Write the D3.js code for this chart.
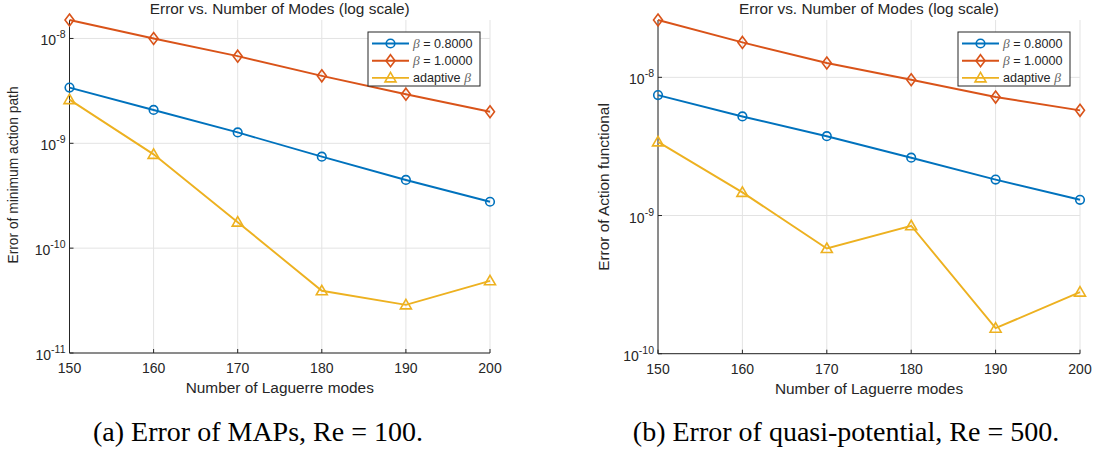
<!DOCTYPE html>
<html>
<head>
<meta charset="utf-8">
<script src="https://cdn.jsdelivr.net/npm/d3@7"></script>
<style>
  body { margin: 0; background: #fff; }
  text { font-family: "Liberation Sans", Arial, sans-serif; fill: #262626; }
</style>
</head>
<body>
<div class="canvas"></div>
<script>
// data
const modes = [150, 160, 170, 180, 190, 200];
const seriesNames = ['0.8000', '1.0000', 'adaptive'];

const mapBeta08 = [3.4e-9, 2.08e-9, 1.27e-9, 7.46e-10, 4.47e-10, 2.77e-10];
const mapBeta10 = [1.5e-8, 1.0e-8, 6.78e-9, 4.4e-9, 2.94e-9, 2.0e-9];
const mapAdaptive = [2.61e-9, 7.85e-10, 1.77e-10, 3.92e-11, 2.88e-11, 4.88e-11];

const qpBeta08 = [7.44e-9, 5.21e-9, 3.75e-9, 2.62e-9, 1.82e-9, 1.30e-9];
const qpBeta10 = [2.6e-8, 1.79e-8, 1.27e-8, 9.6e-9, 7.2e-9, 5.77e-9];
const qpAdaptive = [3.41e-9, 1.47e-9, 5.77e-10, 8.43e-10, 1.53e-10, 2.79e-10];

const mapTicks = [-11, -10, -9, -8];
const qpTicks = [-10, -9, -8];

const colors = ['#0072BD', '#D95319', '#EDB120'];
const markers = ['circle', 'diamond', 'triangle'];

const svg = d3.select('.canvas')
  .append('svg')
    .attr('width', 1094)
    .attr('height', 455);

const drawMarkers = (g, pts, type, color) => {
  pts.forEach(([px, py]) => {
    if (type === 'circle') {
      g.append('circle').attr('cx', px).attr('cy', py).attr('r', 4.3)
        .attr('fill', 'none').attr('stroke', color).attr('stroke-width', 1.6);
    } else if (type === 'diamond') {
      g.append('path')
        .attr('d', `M${px},${py - 6}L${px + 4.5},${py}L${px},${py + 6}L${px - 4.5},${py}Z`)
        .attr('fill', 'none').attr('stroke', color).attr('stroke-width', 1.6);
    } else {
      g.append('path')
        .attr('d', `M${px},${py - 5.5}L${px + 5.5},${py + 4}L${px - 5.5},${py + 4}Z`)
        .attr('fill', 'none').attr('stroke', color).attr('stroke-width', 1.6);
    }
  });
};

// draw one panel
const drawPanel = opts => {
  const { left, right, top, bottom, yDomain, ticks, series, yLabel, yLabelX, yLabelY, yLabelSize, caption } = opts;

  const x = d3.scaleLinear().domain([150, 200]).range([left, right]);
  const y = d3.scaleLog().domain(yDomain).range([bottom, top]);

  const g = svg.append('g');

  // grid
  g.selectAll('.gx').data(modes).enter().append('line')
    .attr('x1', d => x(d)).attr('x2', d => x(d))
    .attr('y1', top).attr('y2', bottom)
    .attr('stroke', '#e3e3e3').attr('stroke-width', 1);
  g.selectAll('.gy').data(ticks).enter().append('line')
    .attr('x1', left).attr('x2', right)
    .attr('y1', d => y(Math.pow(10, d))).attr('y2', d => y(Math.pow(10, d)))
    .attr('stroke', '#e3e3e3').attr('stroke-width', 1);

  // axes lines
  g.append('line').attr('x1', left).attr('x2', right).attr('y1', bottom).attr('y2', bottom)
    .attr('stroke', '#262626').attr('stroke-width', 1);
  g.append('line').attr('x1', left).attr('x2', left).attr('y1', top).attr('y2', bottom)
    .attr('stroke', '#262626').attr('stroke-width', 1);

  // tick marks (inward)
  g.selectAll('.tx').data(modes).enter().append('line')
    .attr('x1', d => x(d)).attr('x2', d => x(d))
    .attr('y1', bottom).attr('y2', bottom - 4)
    .attr('stroke', '#262626');
  g.selectAll('.ty').data(ticks).enter().append('line')
    .attr('x1', left).attr('x2', left + 4)
    .attr('y1', d => y(Math.pow(10, d))).attr('y2', d => y(Math.pow(10, d)))
    .attr('stroke', '#262626');

  // x tick labels
  g.selectAll('.lx').data(modes).enter().append('text')
    .attr('x', d => x(d)).attr('y', bottom + 20)
    .attr('text-anchor', 'middle')
    .attr('font-size', 14)
    .text(d => d);

  // y tick labels with superscript exponents
  const yl = g.selectAll('.ly').data(ticks).enter().append('text')
    .attr('x', left - 4).attr('y', d => y(Math.pow(10, d)) + 7)
    .attr('text-anchor', 'end')
    .attr('font-size', 14);
  yl.append('tspan').text('10');
  yl.append('tspan').attr('dy', -7).attr('font-size', 10.5).text(d => d);

  // axis labels
  g.append('text')
    .attr('x', (left + right) / 2).attr('y', bottom + 40)
    .attr('text-anchor', 'middle').attr('font-size', 15.4)
    .text('Number of Laguerre modes');
  g.append('text')
    .attr('transform', `translate(${yLabelX},${yLabelY}) rotate(-90)`)
    .attr('text-anchor', 'middle').attr('font-size', yLabelSize)
    .text(yLabel);

  // title
  g.append('text')
    .attr('x', (left + right) / 2).attr('y', 14)
    .attr('text-anchor', 'middle').attr('font-size', 15.4)
    .text('Error vs. Number of Modes (log scale)');

  // lines and markers
  const line = d3.line().x((d, i) => x(modes[i])).y(d => y(d));
  series.forEach((s, k) => {
    g.append('path')
      .attr('d', line(s))
      .attr('fill', 'none')
      .attr('stroke', colors[k])
      .attr('stroke-width', 1.9);
    drawMarkers(g, s.map((d, i) => [x(modes[i]), y(d)]), markers[k], colors[k]);
  });

  // legend
  const lw = 112, lh = 54;
  const lx = right - 10 - lw, ly = 32;
  const lg = g.append('g').attr('transform', `translate(${lx},${ly})`);
  lg.append('rect').attr('width', lw).attr('height', lh)
    .attr('fill', '#fff').attr('stroke', '#262626').attr('stroke-width', 1);
  seriesNames.forEach((name, k) => {
    const ry = 11.5 + k * 17.2;
    lg.append('line').attr('x1', 4).attr('x2', 41).attr('y1', ry).attr('y2', ry)
      .attr('stroke', colors[k]).attr('stroke-width', 1.9);
    drawMarkers(lg, [[22.5, ry]], markers[k], colors[k]);
    const t = lg.append('text').attr('x', 45).attr('y', ry + 4.5).attr('font-size', 12.6);
    const beta = sel => sel.append('tspan')
      .attr('font-family', '"Liberation Serif", serif').attr('font-style', 'italic')
      .style('fill', '#666').attr('font-size', 13.5).text('β');
    if (name === 'adaptive') {
      t.append('tspan').text('adaptive ');
      beta(t);
    } else {
      beta(t);
      t.append('tspan').text(' = ' + name);
    }
  });

  // caption
  svg.append('text')
    .attr('x', caption.x).attr('y', 441)
    .attr('text-anchor', 'middle')
    .style('font-family', '"Liberation Serif", "Times New Roman", serif')
    .style('fill', '#000')
    .attr('font-size', 28)
    .text(caption.text);
};

drawPanel({
  left: 69.5, right: 490, top: 20, bottom: 353,
  yDomain: [1e-11, 1.5e-8], ticks: mapTicks,
  series: [mapBeta08, mapBeta10, mapAdaptive],
  yLabel: 'Error of minimum action path', yLabelX: 18, yLabelY: 175, yLabelSize: 13.8,
  caption: { x: 258, text: '(a) Error of MAPs, Re = 100.' }
});

drawPanel({
  left: 658, right: 1080, top: 20, bottom: 353.7,
  yDomain: [1e-10, 2.6e-8], ticks: qpTicks,
  series: [qpBeta08, qpBeta10, qpAdaptive],
  yLabel: 'Error of Action functional', yLabelX: 609, yLabelY: 187, yLabelSize: 15.4,
  caption: { x: 846, text: '(b) Error of quasi-potential, Re = 500.' }
});
</script>
</body>
</html>
